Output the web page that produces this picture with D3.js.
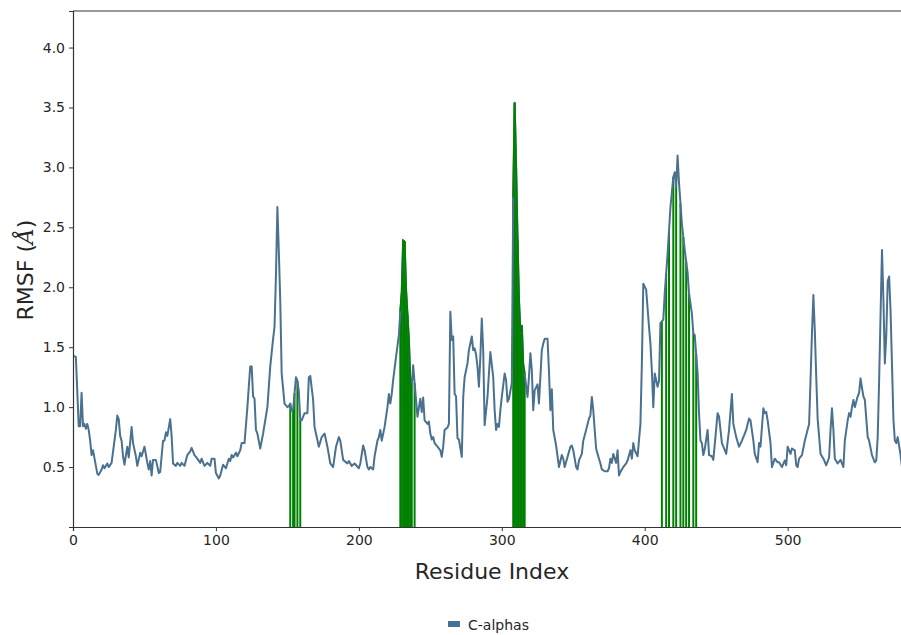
<!DOCTYPE html>
<html>
<head>
<meta charset="utf-8">
<script src="https://cdn.jsdelivr.net/npm/d3@7"></script>
<style>
  html, body { margin: 0; padding: 0; background: #ffffff; }
  svg { display: block; }
  text { font-family: "DejaVu Sans", sans-serif; fill: #262626; }
</style>
</head>
<body>
<svg id="chart" width="901" height="635"></svg>
<script>
// ---- data ----
const residues = [0,2,4,5,6,7,8,9,10,11,12,13,14,15,17,18,20,21,22,24,25,27,30,31,32,33,34,35,36,38,39,41,42,44,45,47,48,50,52,53,54,55,56,58,60,61,63,64,65,66,68,69,70,72,73,75,76,78,80,82,83,85,87,89,90,92,94,96,97,99,100,102,103,105,107,109,110,111,112,114,115,117,118,120,122,123,124,125,126,127,128,129,131,133,136,138,140,141,142,143,144,145,146,148,150,151,152,153,154,156,157,158,159,160,162,164,165,166,168,169,172,174,176,178,180,182,184,186,187,189,192,193,195,197,200,201,203,204,206,207,208,210,211,213,214,215,216,218,220,221,222,223,224,226,228,229,230,231,232,233,235,236,237,238,239,240,241,243,244,245,246,248,249,250,251,252,253,255,257,258,259,260,262,263,264,265,266,267,268,269,270,272,273,274,276,277,279,280,281,282,283,284,285,286,287,288,290,291,292,294,295,296,297,298,299,300,302,303,304,305,307,308,309,310,311,312,313,314,315,316,318,319,320,321,322,323,325,326,327,328,329,330,332,333,334,335,336,338,340,342,343,344,346,348,349,350,352,353,354,356,357,359,361,362,363,364,365,366,367,368,369,370,372,374,375,376,377,378,380,381,382,383,385,387,388,390,391,392,393,395,397,398,399,401,403,404,405,406,407,409,410,411,413,414,416,418,420,421,422,423,424,426,428,430,431,433,434,435,437,438,439,440,441,442,444,445,447,448,451,452,454,455,457,459,461,462,464,466,468,470,471,473,474,476,477,479,480,481,483,484,485,486,488,489,491,493,494,496,498,499,500,502,503,505,506,507,508,510,512,515,516,517,518,519,520,521,523,525,527,529,530,531,532,533,535,537,539,540,542,543,544,545,546,547,549,550,551,552,553,554,556,557,559,561,562,563,564,566,567,568,569,570,571,572,574,575,576,577,579,580];
const rmsf = [1.43,1.42,0.84,0.84,1.12,0.84,0.86,0.82,0.86,0.81,0.72,0.60,0.64,0.575,0.445,0.435,0.48,0.515,0.49,0.53,0.50,0.535,0.81,0.93,0.90,0.76,0.72,0.59,0.52,0.67,0.58,0.835,0.70,0.59,0.51,0.62,0.59,0.67,0.535,0.48,0.55,0.43,0.56,0.56,0.45,0.46,0.72,0.72,0.79,0.76,0.90,0.76,0.53,0.51,0.535,0.51,0.535,0.51,0.60,0.63,0.66,0.60,0.57,0.535,0.57,0.51,0.535,0.51,0.57,0.57,0.45,0.405,0.43,0.52,0.49,0.57,0.55,0.60,0.58,0.62,0.59,0.64,0.70,0.70,1.0,1.17,1.34,1.34,1.09,1.07,0.81,0.78,0.655,0.78,1.0,1.34,1.57,1.67,2.1,2.67,2.3,1.89,1.28,1.03,1.0,1.01,1.03,0.97,0.98,1.25,1.22,1.13,0.89,0.89,0.95,0.95,1.25,1.26,1.06,0.835,0.67,0.75,0.78,0.67,0.53,0.50,0.67,0.75,0.72,0.56,0.53,0.55,0.51,0.53,0.49,0.53,0.68,0.64,0.50,0.48,0.50,0.48,0.59,0.72,0.75,0.81,0.72,0.835,1.0,1.11,1.03,1.11,1.225,1.42,1.60,1.80,1.95,2.39,2.38,1.98,1.56,1.20,1.18,1.35,1.20,1.06,0.92,1.07,0.96,1.08,0.89,0.86,0.88,0.78,0.73,0.75,0.70,0.67,0.64,0.585,0.67,0.81,0.83,0.86,1.795,1.56,1.59,1.11,1.09,0.74,0.73,0.585,1.085,1.25,1.365,1.475,1.59,1.475,1.49,1.44,1.335,1.17,1.42,1.74,1.475,0.85,1.085,1.28,1.46,1.25,0.975,0.81,0.86,0.835,0.975,1.085,1.28,1.225,1.045,1.07,1.2,2.75,3.54,3.0,2.4,1.9,1.62,1.68,1.35,1.28,1.085,1.25,1.45,1.31,0.975,1.14,1.19,1.03,1.25,1.475,1.53,1.57,1.57,1.3,0.975,1.15,0.81,0.68,0.50,0.60,0.57,0.50,0.585,0.67,0.68,0.64,0.50,0.48,0.555,0.61,0.72,0.81,0.905,0.93,1.085,0.975,0.81,0.655,0.61,0.57,0.53,0.48,0.465,0.465,0.49,0.57,0.535,0.61,0.535,0.64,0.43,0.46,0.50,0.53,0.555,0.64,0.57,0.70,0.64,0.59,0.86,1.365,2.03,1.98,1.67,1.53,1.30,1.0,1.28,1.17,1.22,1.70,1.73,1.95,2.28,2.67,2.92,2.96,2.84,3.10,2.87,2.53,2.31,2.12,1.95,1.78,1.615,1.60,1.28,0.95,0.72,0.70,0.60,0.65,0.81,0.60,0.59,0.56,0.95,0.92,0.70,0.67,0.61,0.81,1.11,0.86,0.75,0.67,0.72,0.78,0.81,0.905,0.89,0.72,0.61,0.54,0.70,0.67,0.99,0.95,0.96,0.89,0.70,0.50,0.57,0.54,0.54,0.50,0.555,0.515,0.67,0.61,0.655,0.64,0.515,0.50,0.57,0.60,0.72,0.86,1.225,1.615,1.935,1.64,1.25,0.90,0.61,0.57,0.515,0.58,0.81,0.99,0.81,0.57,0.53,0.56,0.50,0.72,0.89,0.95,0.92,1.0,1.06,1.0,1.09,1.12,1.24,1.16,1.09,1.06,0.75,0.72,0.60,0.54,0.555,0.75,1.225,2.31,1.9,1.365,1.6,2.05,2.09,1.8,0.9,0.72,0.70,0.75,0.60,0.50];
const highlighted = [152,154,155,157,159,
  229,230,231,232,233,234,235,236,237,239,
  308,309,310,311,312,313,314,315,316,
  412,415,417,420,422,425,427,429,431,434,436];
const xTicks = [0,100,200,300,400,500];
const yTicks = [0.5,1.0,1.5,2.0,2.5,3.0,3.5,4.0];
const seriesName = "C-alphas";
const xLabel = "Residue Index";

// ---- layout ----
const svg = d3.select("#chart");
const L = 73, T = 11, R = 902, B = 527;
const x = d3.scaleLinear().domain([0, 580]).range([L, R]);
const y = d3.scaleLinear().domain([0, 4.305]).range([B, T]);
const lineColor = "#4a7190";
const green = "#008000";

svg.append("defs").append("clipPath").attr("id", "clip")
  .append("rect").attr("x", L).attr("y", T).attr("width", R - L).attr("height", B - T);

const data = residues.map((r, i) => ({ r, v: rmsf[i] }));
const valueAt = r => {
  const i = d3.bisector(d => d.r).left(data, r);
  if (i <= 0) return data[0].v;
  if (i >= data.length) return data[data.length - 1].v;
  const a = data[i - 1], b = data[i];
  return a.v + (b.v - a.v) * (r - a.r) / (b.r - a.r);
};

const plot = svg.append("g").attr("clip-path", "url(#clip)");

// highlighted residues (vertical green lines)
plot.selectAll("line.hl").data(highlighted).join("line")
  .attr("class", "hl")
  .attr("x1", d => x(d)).attr("x2", d => x(d))
  .attr("y1", y(0)).attr("y2", d => y(valueAt(d)))
  .attr("stroke", green).attr("stroke-width", 2);

// RMSF line
plot.append("path").datum(data)
  .attr("fill", "none").attr("stroke", lineColor).attr("stroke-width", 2)
  .attr("stroke-linejoin", "round")
  .attr("d", d3.line().x(d => x(d.r)).y(d => y(d.v)));

// green overlay on highlighted stretches (line segments drawn green over blue)
const groups = [[229, 237], [308, 316]];
groups.forEach(([a, b]) => {
  const seg = data.filter(d => d.r >= a && d.r <= b);
  plot.append("path").datum(seg)
    .attr("fill", "none").attr("stroke", green).attr("stroke-width", 2)
    .attr("d", d3.line().x(d => x(d.r)).y(d => y(d.v)));
});

// axes
const xAxis = svg.append("g").attr("transform", `translate(0,${B})`)
  .call(d3.axisBottom(x).tickValues(xTicks).tickFormat(d3.format("d")).tickSizeOuter(0).tickSize(4).tickPadding(4));
const yAxis = svg.append("g").attr("transform", `translate(${L},0)`)
  .call(d3.axisLeft(y).tickValues(yTicks).tickFormat(d3.format(".1f")).tickSizeOuter(0).tickSize(4).tickPadding(4));
[xAxis, yAxis].forEach(g => {
  g.select(".domain").attr("stroke", "#333").attr("stroke-width", 1.2);
  g.selectAll(".tick line").attr("stroke", "#333");
  g.selectAll(".tick text").attr("font-size", 14).attr("fill", "#262626")
    .attr("font-family", "DejaVu Sans, sans-serif");
});
// top spine
svg.append("line").attr("x1", L).attr("x2", R).attr("y1", T).attr("y2", T)
  .attr("stroke", "#333").attr("stroke-width", 1.2);

// axis labels
svg.append("text").attr("x", 492).attr("y", 579).attr("text-anchor", "middle")
  .attr("font-size", 22).text(xLabel);
const yl = svg.append("text").attr("transform", "translate(33,270) rotate(-90)")
  .attr("text-anchor", "middle").attr("font-size", 22);
yl.append("tspan").text("RMSF (");
yl.append("tspan").attr("font-style", "italic").attr("font-family", "DejaVu Serif, serif").text("Å");
yl.append("tspan").text(")");

// legend
const lg = svg.append("g").attr("transform", "translate(448,621)");
lg.append("rect").attr("x", 0).attr("y", 0).attr("width", 12).attr("height", 6).attr("fill", lineColor);
lg.append("text").attr("x", 20).attr("y", 9).attr("font-size", 14).text(seriesName);
</script>
</body>
</html>
